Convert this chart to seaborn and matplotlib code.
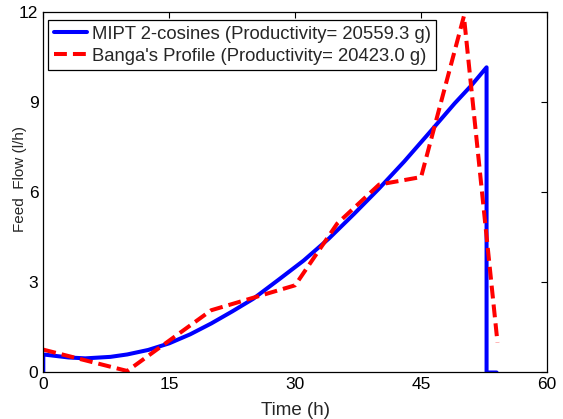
import numpy as np
import pandas as pd
import matplotlib
matplotlib.use("Agg")
import matplotlib.pyplot as plt
import seaborn as sns

# Data
mipt_t = [0, 0, 3, 5, 8, 10, 12.5, 15, 17.5, 20, 22.5, 25, 28, 31, 34, 37, 40, 43, 46, 49, 51, 52.8, 52.8, 54.0]
mipt_v = [0, 0.6, 0.5, 0.47, 0.52, 0.6, 0.75, 0.97, 1.27, 1.63, 2.03, 2.45, 3.08, 3.72, 4.45, 5.27, 6.12, 7.02, 7.98, 8.95, 9.55, 10.15, 0, 0]
banga_t = [0, 10, 20, 30, 35, 40, 45, 50.1, 54.1]
banga_v = [0.76, 0.05, 2.07, 2.9, 4.95, 6.25, 6.5, 11.85, 1.0]

mipt_label = "MIPT 2-cosines (Productivity= 20559.3 g)"
banga_label = "Banga's Profile (Productivity= 20423.0 g)"
x_ticks = [0, 15, 30, 45, 60]
y_ticks = [0, 3, 6, 9, 12]

sns.set_style("white")
plt.rcParams['font.family'] = ['Liberation Sans', 'DejaVu Sans']

df = pd.concat([
    pd.DataFrame({"t": mipt_t, "v": mipt_v, "series": mipt_label}),
    pd.DataFrame({"t": banga_t, "v": banga_v, "series": banga_label}),
], ignore_index=True)

fig = plt.figure(figsize=(5.63, 4.19), dpi=100)
ax = fig.add_axes([0.0769, 0.1110, 0.8947, 0.8611])

sns.lineplot(data=df, x="t", y="v", hue="series", style="series",
             palette={mipt_label: "#0000ff", banga_label: "#ff0000"},
             dashes={mipt_label: "", banga_label: (3.2, 1.5)},
             sort=False, estimator=None, linewidth=2.9, ax=ax, legend=True)

ax.set_xlim(0, 60)
ax.set_ylim(0, 12)
ax.set_xticks(x_ticks)
ax.set_yticks(y_ticks)
ax.tick_params(direction="in", length=4, width=0.8, top=True, right=True,
               labelsize=12.5, pad=3.5, colors="black")
for s in ax.spines.values():
    s.set_visible(True)
    s.set_color("black")
    s.set_linewidth(0.9)
ax.set_xlabel("Time (h)", fontsize=13.5, va="center")
ax.xaxis.set_label_coords(0.5, -0.105)
ax.set_ylabel("Feed  Flow (l/h)", fontsize=11, va="center")
ax.yaxis.set_label_coords(-0.046, 0.535)

leg = ax.legend(loc="upper left", bbox_to_anchor=(0.0099, 0.977), borderaxespad=0,
                fontsize=13.3, frameon=True, fancybox=False, handlelength=1.8,
                handletextpad=0.25, borderpad=0.3, labelspacing=0.28)
leg.get_frame().set_edgecolor("black")
leg.get_frame().set_linewidth(0.9)
leg.get_frame().set_alpha(1)

fig.savefig("out.png", dpi=100)
